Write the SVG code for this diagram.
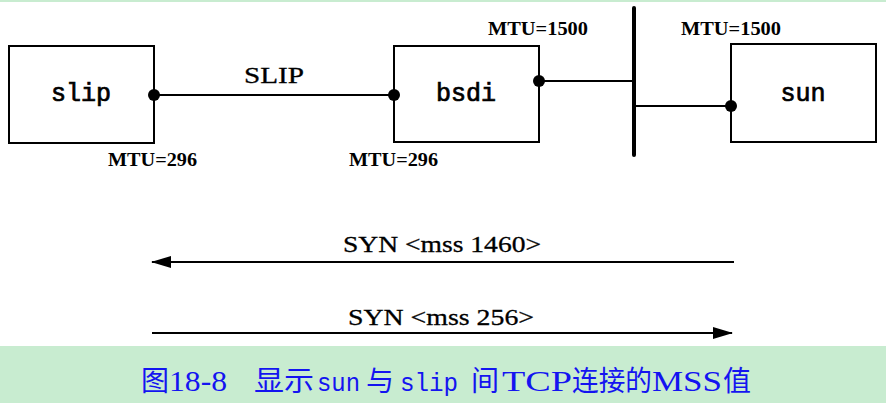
<svg xmlns="http://www.w3.org/2000/svg" width="886" height="403" viewBox="0 0 886 403">
<defs>
<style>
.box{fill:#fff;stroke:#000;stroke-width:2}
.ln{stroke:#000;stroke-width:2;fill:none}
.dot{fill:#000}
.name{font-family:"Liberation Mono",monospace;font-size:25px;stroke:#000;stroke-width:0.7;text-anchor:middle}
.lbl{font-family:"Liberation Serif",serif;font-size:18px;font-weight:bold}
.big{font-family:"Liberation Serif",serif;font-size:24px;stroke:#000;stroke-width:0.3}
.cap{fill:#1414f0}
.capl{font-family:"Liberation Serif",serif;font-size:29px}
.capm{font-family:"Liberation Mono",monospace;font-size:25px}
.capc{font-family:"Noto Sans CJK SC",sans-serif;font-size:28px}
</style>
<marker id="ah" markerWidth="20" markerHeight="12" refX="19" refY="6" orient="auto" markerUnits="userSpaceOnUse">
<path d="M0,0 L20,6 L0,12 Z" fill="#000"/>
</marker>
</defs>
<rect x="0" y="0" width="886" height="403" fill="#fff"/>
<rect x="0" y="0" width="886" height="2" fill="#c8ecd0"/>
<g id="slip">
<rect class="box" x="9" y="46" width="145" height="97"/>
<text class="name" x="81" y="101">slip</text>
</g>
<g id="bsdi">
<rect class="box" x="394" y="46" width="145" height="96"/>
<text class="name" x="466" y="101">bsdi</text>
</g>
<g id="sun">
<rect class="box" x="731" y="44" width="145" height="98"/>
<text class="name" x="803" y="101">sun</text>
</g>
<g id="ethernet">
<line x1="634" y1="8" x2="634" y2="155" stroke="#000" stroke-width="4" stroke-linecap="round"/>
</g>
<g id="connectors">
<line class="ln" x1="154" y1="95" x2="394" y2="95" stroke-width="2.5"/>
<line class="ln" x1="539" y1="81" x2="634" y2="81" stroke-width="1.5"/>
<line class="ln" x1="634" y1="106" x2="731" y2="106" stroke-width="1.5"/>
<circle class="dot" cx="154" cy="95" r="6"/>
<circle class="dot" cx="394" cy="95" r="6"/>
<circle class="dot" cx="539" cy="81" r="6"/>
<circle class="dot" cx="731" cy="106" r="6"/>
<line class="ln" x1="734" y1="262" x2="152" y2="262" marker-end="url(#ah)"/>
<line class="ln" x1="152" y1="333" x2="732" y2="333" marker-end="url(#ah)"/>
</g>
<g id="labels">
<text class="big" x="244" y="83" textLength="60" lengthAdjust="spacingAndGlyphs">SLIP</text>
<text class="lbl" x="108" y="166" textLength="89" lengthAdjust="spacingAndGlyphs">MTU=296</text>
<text class="lbl" x="349" y="166" textLength="89" lengthAdjust="spacingAndGlyphs">MTU=296</text>
<text class="lbl" x="488" y="35" textLength="100" lengthAdjust="spacingAndGlyphs">MTU=1500</text>
<text class="lbl" x="681" y="35" textLength="100" lengthAdjust="spacingAndGlyphs">MTU=1500</text>
<text class="big" x="343" y="252" textLength="198" lengthAdjust="spacingAndGlyphs">SYN &lt;mss 1460&gt;</text>
<text class="big" x="348" y="325" textLength="186" lengthAdjust="spacingAndGlyphs">SYN &lt;mss 256&gt;</text>
</g>
<rect x="0" y="346" width="886" height="57" fill="#c8ecd0"/>
<g id="caption" class="cap">
<text class="capc" x="141" y="391">图</text>
<text class="capl" x="169" y="391" textLength="58" lengthAdjust="spacingAndGlyphs">18-8</text>
<text class="capc" x="254" y="391" textLength="60" lengthAdjust="spacingAndGlyphs">显示</text>
<text class="capm" x="317" y="391" textLength="43" lengthAdjust="spacingAndGlyphs">sun</text>
<text class="capc" x="366" y="391">与</text>
<text class="capm" x="400" y="391" textLength="58" lengthAdjust="spacingAndGlyphs">slip</text>
<text class="capc" x="471" y="391">间</text>
<text class="capl" x="502" y="391" textLength="70" lengthAdjust="spacingAndGlyphs">TCP</text>
<text class="capc" x="572" y="391" textLength="80" lengthAdjust="spacingAndGlyphs">连接的</text>
<text class="capl" x="652" y="391" textLength="70" lengthAdjust="spacingAndGlyphs">MSS</text>
<text class="capc" x="723" y="391">值</text>
</g>
</svg>
